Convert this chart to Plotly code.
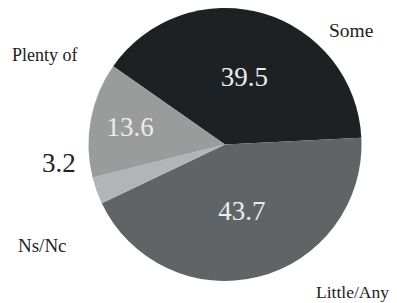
import plotly.graph_objects as go

categories = ["Some", "Little/Any", "Ns/Nc", "Plenty of"]
values = [39.5, 43.7, 3.2, 13.6]
colors = ["#1d2124", "#606467", "#b1b5b7", "#9a9b9b"]

FONT = "Liberation Serif, serif"

# page body has an 8px default margin; figure is sized to fit the window
OFF = 8
W, H = 397 - OFF, 303 - OFF

inside_text = [f"{v}" if v >= 5 else "" for v in values]

cx, cy, r = 225 - OFF, 144.5 - OFF, 136.5
dom_x = [max(0, (cx - r) / W), min(1, (cx + r) / W)]
dom_y = [max(0, 1 - (cy + r) / H), min(1, 1 - (cy - r) / H)]
fig = go.Figure(go.Pie(
    labels=categories,
    values=values,
    text=inside_text,
    textinfo="text",
    textposition="inside",
    insidetextorientation="horizontal",
    insidetextfont=dict(family=FONT, size=27, color="#ececec"),
    marker=dict(colors=colors, line=dict(width=0)),
    sort=False,
    direction="clockwise",
    rotation=-55,
    showlegend=False,
    hoverinfo="label+value",
    domain=dict(x=dom_x, y=dom_y),
))

small = [v for v in values if v < 5][0]
annotations = [
    dict(text="Some", x=351, y=30, size=19.5),
    dict(text="Plenty of", x=45, y=55, size=18),
    dict(text=f"{small}", x=59, y=163, size=27),
    dict(text="Ns/Nc", x=42, y=245, size=19),
    dict(text="Little/Any", x=352, y=292, size=17.5),
]
fig.update_layout(
    width=W, height=H,
    margin=dict(l=0, r=0, t=0, b=0),
    paper_bgcolor="white", plot_bgcolor="white",
    font=dict(family=FONT),
    annotations=[
        dict(text=a["text"], x=(a["x"] - OFF) / W, y=1 - (a["y"] - OFF) / H,
             xref="paper", yref="paper", xanchor="center", yanchor="middle",
             showarrow=False, font=dict(family=FONT, size=a["size"], color="#222222"))
        for a in annotations
    ],
)
fig.write_html("out.html")
